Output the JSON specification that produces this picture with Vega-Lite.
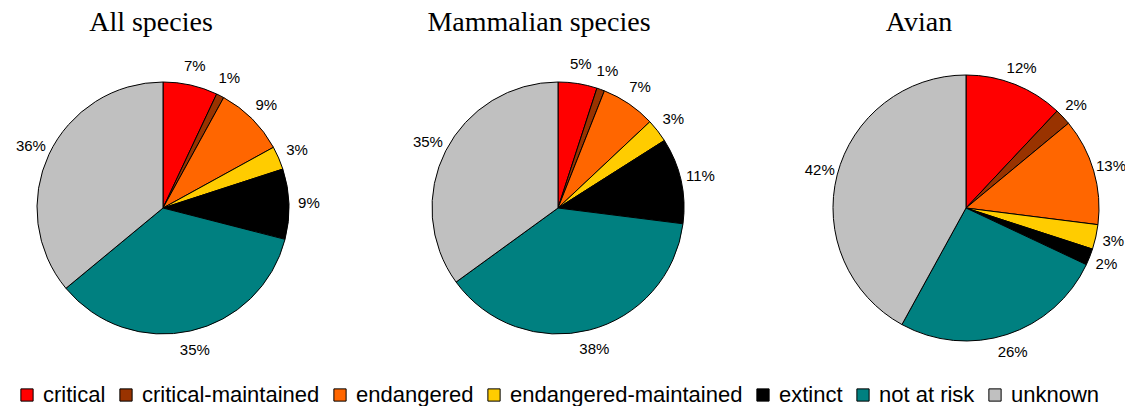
{
  "$schema": "https://vega.github.io/schema/vega-lite/v6.json",
  "padding": {"left": 15, "right": 0, "top": 9, "bottom": 0},
  "bounds": "flush",
  "background": "white",
  "data": {"values": [
    {"group": "All species", "status": "critical", "value": 0.07},
    {"group": "All species", "status": "critical-maintained", "value": 0.01},
    {"group": "All species", "status": "endangered", "value": 0.09},
    {"group": "All species", "status": "endangered-maintained", "value": 0.03},
    {"group": "All species", "status": "extinct", "value": 0.09},
    {"group": "All species", "status": "not at risk", "value": 0.35},
    {"group": "All species", "status": "unknown", "value": 0.36},
    {"group": "Mammalian species", "status": "critical", "value": 0.05},
    {"group": "Mammalian species", "status": "critical-maintained", "value": 0.01},
    {"group": "Mammalian species", "status": "endangered", "value": 0.07},
    {"group": "Mammalian species", "status": "endangered-maintained", "value": 0.03},
    {"group": "Mammalian species", "status": "extinct", "value": 0.11},
    {"group": "Mammalian species", "status": "not at risk", "value": 0.38},
    {"group": "Mammalian species", "status": "unknown", "value": 0.35},
    {"group": "Avian", "status": "critical", "value": 0.12},
    {"group": "Avian", "status": "critical-maintained", "value": 0.02},
    {"group": "Avian", "status": "endangered", "value": 0.13},
    {"group": "Avian", "status": "endangered-maintained", "value": 0.03},
    {"group": "Avian", "status": "extinct", "value": 0.02},
    {"group": "Avian", "status": "not at risk", "value": 0.26},
    {"group": "Avian", "status": "unknown", "value": 0.42}
  ]},
  "spacing": 0,
  "hconcat": [
    {
      "title": {"text": "All species", "dx": -12},
      "width": 294, "height": 340,
      "transform": [{"filter": "datum.group === 'All species'"}],
      "layer": [
        {"mark": {"type": "arc", "outerRadius": 126, "stroke": "black", "strokeWidth": 1},
         "encoding": {
           "theta": {"field": "value", "type": "quantitative", "stack": true},
           "order": {"field": "status", "type": "ordinal", "sort": "ascending"},
           "color": {"field": "status", "type": "nominal"}
         }},
        {"mark": {"type": "text", "radius": 146, "font": "Liberation Sans", "fontSize": 15, "color": "black"},
         "encoding": {
           "theta": {"field": "value", "type": "quantitative", "stack": true},
           "order": {"field": "status", "type": "ordinal", "sort": "ascending"},
           "text": {"field": "value", "type": "quantitative", "format": ".0%"}
         }}
      ]
    },
    {
      "title": {"text": "Mammalian species", "dx": -19},
      "width": 496, "height": 340,
      "transform": [{"filter": "datum.group === 'Mammalian species'"}],
      "layer": [
        {"mark": {"type": "arc", "outerRadius": 126, "stroke": "black", "strokeWidth": 1},
         "encoding": {
           "theta": {"field": "value", "type": "quantitative", "stack": true},
           "order": {"field": "status", "type": "ordinal", "sort": "ascending"},
           "color": {"field": "status", "type": "nominal"}
         }},
        {"mark": {"type": "text", "radius": 146, "font": "Liberation Sans", "fontSize": 15, "color": "black"},
         "encoding": {
           "theta": {"field": "value", "type": "quantitative", "stack": true},
           "order": {"field": "status", "type": "ordinal", "sort": "ascending"},
           "text": {"field": "value", "type": "quantitative", "format": ".0%"}
         }}
      ]
    },
    {
      "title": {"text": "Avian", "dx": -47},
      "width": 320, "height": 340,
      "transform": [{"filter": "datum.group === 'Avian'"}],
      "layer": [
        {"mark": {"type": "arc", "outerRadius": 133, "stroke": "black", "strokeWidth": 1},
         "encoding": {
           "theta": {"field": "value", "type": "quantitative", "stack": true},
           "order": {"field": "status", "type": "ordinal", "sort": "ascending"},
           "color": {"field": "status", "type": "nominal"}
         }},
        {"mark": {"type": "text", "radius": 151, "font": "Liberation Sans", "fontSize": 15, "color": "black"},
         "encoding": {
           "theta": {"field": "value", "type": "quantitative", "stack": true},
           "order": {"field": "status", "type": "ordinal", "sort": "ascending"},
           "text": {"field": "value", "type": "quantitative", "format": ".0%"}
         }}
      ]
    }
  ],
  "resolve": {"scale": {"theta": "independent"}},
  "config": {
    "view": {"stroke": null},
    "title": {"font": "Liberation Serif", "fontSize": 28, "fontWeight": "normal", "color": "black", "offset": 4, "dy": 3},
    "range": {"category": ["#FF0000", "#993300", "#FF6600", "#FFCC00", "#000000", "#008080", "#C0C0C0"]},
    "legend": {
      "orient": "bottom",
      "direction": "horizontal",
      "columns": 7,
      "title": null,
      "symbolType": "square",
      "symbolSize": 150,
      "symbolStrokeColor": "black",
      "symbolStrokeWidth": 1,
      "symbolOpacity": 1,
      "labelFont": "Liberation Sans",
      "labelFontSize": 22,
      "labelColor": "black",
      "labelLimit": 0,
      "labelOffset": 5,
      "columnPadding": 9,
      "offset": 6
    }
  }
}
